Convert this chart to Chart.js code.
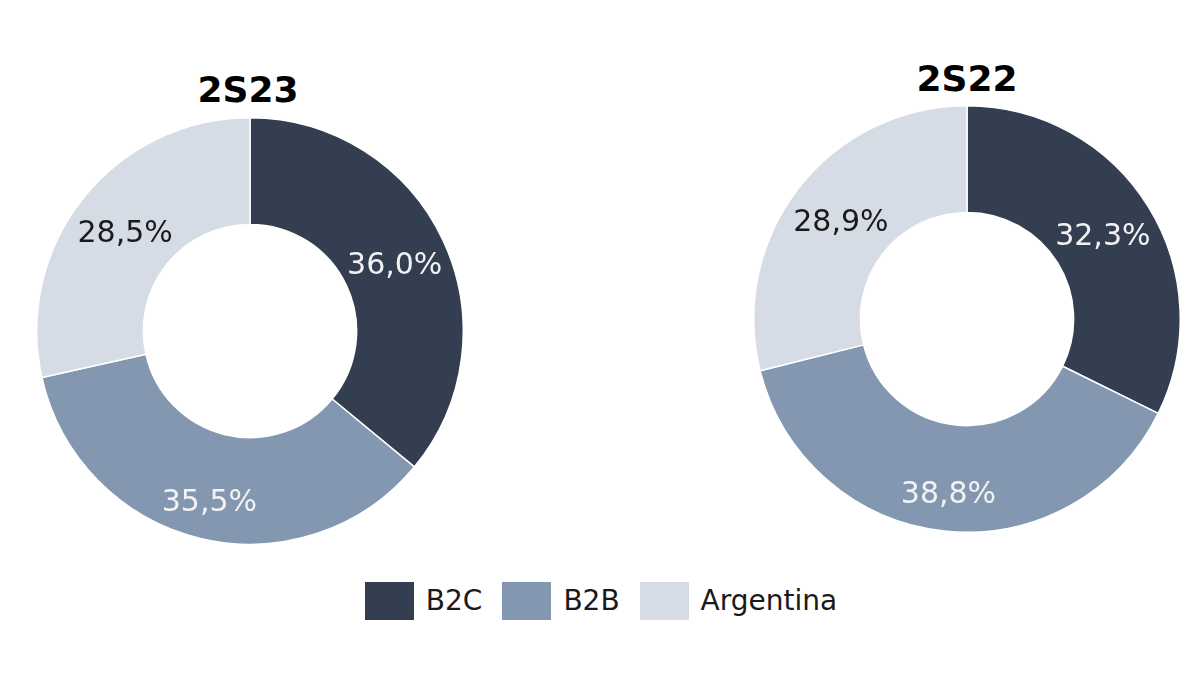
<!DOCTYPE html>
<html>
<head>
<meta charset="utf-8">
<script src="https://cdn.jsdelivr.net/npm/chart.js@4"></script>
<style>
  html, body { margin: 0; padding: 0; background: #ffffff; }
  body { width: 1200px; height: 675px; position: relative; overflow: hidden; font-family: "DejaVu Sans", sans-serif; }
  .box { position: absolute; }
  .title { position: absolute; font-family: "DejaVu Sans", sans-serif; font-weight: bold; font-size: 36px; line-height: 36px; color: #000; width: 300px; text-align: center; }
  #legend { position: absolute; left: 0; top: 582px; width: 1200px; display: flex; justify-content: center; align-items: center; padding-left: 2px; box-sizing: border-box; }
  .item { display: flex; align-items: center; margin: 0 10px; }
  .sw { width: 49px; height: 38px; margin-right: 12px; }
  .lt { font-size: 28px; line-height: 38px; color: #1a1a1a; }
</style>
</head>
<body>
<div class="title" style="left:98px; top:72px;" id="t1"></div>
<div class="title" style="left:817px; top:61px;" id="t2"></div>
<div class="box" style="left:36px; top:117px; width:428px; height:428px;"><canvas id="c1"></canvas></div>
<div class="box" style="left:753px; top:105px; width:428px; height:428px;"><canvas id="c2"></canvas></div>
<div id="legend"></div>
<script>
const categories = ["B2C", "B2B", "Argentina"];
const titles = ["2S23", "2S22"];
const values2S23 = [36.0, 35.5, 28.5];
const values2S22 = [32.3, 38.8, 28.9];
const colors = ["#333f50", "#8497b0", "#d6dce5"];
const labelColors = ["#f2f2f2", "#f2f2f2", "#1a1a1a"];
// radial placement of each slice label between inner (0) and outer (1) edge
const labelRadialFraction = [0.5, 0.63, 0.5];

const labelPlugin = {
  id: 'sliceLabels',
  afterDatasetsDraw(chart) {
    const ctx = chart.ctx;
    const meta = chart.getDatasetMeta(0);
    const data = chart.data.datasets[0].data;
    ctx.save();
    ctx.font = '30px "DejaVu Sans", sans-serif';
    ctx.textAlign = 'center';
    ctx.textBaseline = 'middle';
    meta.data.forEach((arc, i) => {
      const a = arc.getProps(['x', 'y', 'startAngle', 'endAngle', 'innerRadius', 'outerRadius'], true);
      const mid = (a.startAngle + a.endAngle) / 2;
      const r = a.innerRadius + (a.outerRadius - a.innerRadius) * labelRadialFraction[i];
      const x = a.x + Math.cos(mid) * r;
      const y = a.y + Math.sin(mid) * r + 3;
      ctx.fillStyle = labelColors[i];
      ctx.fillText(data[i].toFixed(1).replace('.', ',') + '%', x, y);
    });
    ctx.restore();
  }
};

function makeChart(id, values) {
  return new Chart(document.getElementById(id), {
    type: 'doughnut',
    data: {
      labels: categories,
      datasets: [{
        data: values,
        backgroundColor: colors,
        borderColor: '#ffffff',
        borderWidth: 1.5,
        hoverOffset: 0
      }]
    },
    options: {
      responsive: true,
      maintainAspectRatio: false,
      animation: false,
      cutout: '50%',
      layout: { padding: 0 },
      plugins: { legend: { display: false }, tooltip: { enabled: false } }
    },
    plugins: [labelPlugin]
  });
}

document.getElementById('t1').textContent = titles[0];
document.getElementById('t2').textContent = titles[1];
makeChart('c1', values2S23);
makeChart('c2', values2S22);

const legend = document.getElementById('legend');
categories.forEach((c, i) => {
  const it = document.createElement('div');
  it.className = 'item';
  const sw = document.createElement('div');
  sw.className = 'sw';
  sw.style.background = colors[i];
  const t = document.createElement('span');
  t.className = 'lt';
  t.textContent = c;
  it.appendChild(sw); it.appendChild(t);
  legend.appendChild(it);
});
</script>
</body>
</html>
